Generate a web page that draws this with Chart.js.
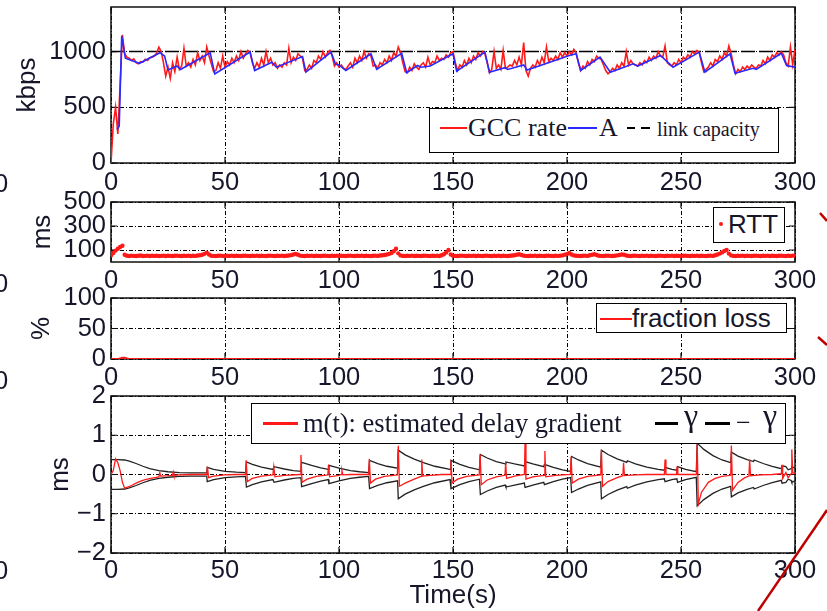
<!DOCTYPE html>
<html><head><meta charset="utf-8">
<script src="https://cdn.jsdelivr.net/npm/chart.js@4.4.1/dist/chart.umd.min.js"></script>
<style>
html,body{margin:0;padding:0;background:#fff;overflow:hidden}
#wrap{position:relative;width:827px;height:611px;overflow:hidden;background:#fff}
canvas{position:absolute;left:0;top:0}
.lg{position:absolute;border:1.5px solid #000;background:#fff;box-sizing:border-box;z-index:5}
.t{position:absolute;white-space:nowrap;line-height:30px;height:30px;color:#16162a;z-index:6}
.ser{font-family:"Liberation Serif","Times New Roman",serif}
.san{font-family:"Liberation Sans",Arial,Helvetica,sans-serif}
.ln{position:absolute;height:0;z-index:6}
</style></head>
<body><div id="wrap">
<canvas id="c1" width="827" height="611"></canvas>
<canvas id="c2" width="827" height="611"></canvas>
<canvas id="c3" width="827" height="611"></canvas>
<canvas id="c4" width="827" height="611"></canvas>

<div class="t san" style="left:-6px;top:168px;font-size:25.5px">0</div>
<div class="t san" style="left:-6px;top:268px;font-size:25.5px">0</div>
<div class="t san" style="left:-6px;top:365px;font-size:25.5px">0</div>
<div class="t san" style="left:-6px;top:555px;font-size:25.5px">0</div>

<div class="lg" style="left:429px;top:108px;width:350px;height:45px"></div>
<div class="ln" style="left:440px;top:127px;width:27px;border-top:2px solid #ff1a1a"></div>
<div class="t ser" style="left:468px;top:113px;font-size:26px">GCC rate</div>
<div class="ln" style="left:568px;top:127px;width:29px;border-top:2px solid #2a2aff"></div>
<div class="t ser" style="left:599px;top:113px;font-size:26px">A</div>
<div class="ln" style="left:627px;top:127px;width:8px;border-top:2px solid #000"></div>
<div class="ln" style="left:641px;top:127px;width:9px;border-top:2px solid #000"></div>
<div class="t ser" style="left:657px;top:114px;font-size:20px">link capacity</div>

<div class="lg" style="left:713px;top:207px;width:72px;height:36px"></div>
<div style="position:absolute;left:719px;top:222px;width:4px;height:4px;border-radius:50%;background:#ff1a1a;z-index:6"></div>
<div class="t san" style="left:728px;top:209px;font-size:26px">RTT</div>

<div class="lg" style="left:596px;top:303px;width:191px;height:30px"></div>
<div class="ln" style="left:600px;top:318px;width:32px;border-top:2px solid #ff1a1a"></div>
<div class="t san" style="left:632px;top:303px;font-size:26px">fraction loss</div>

<div class="lg" style="left:251px;top:403px;width:535px;height:41px"></div>
<div class="ln" style="left:263px;top:422px;width:35px;border-top:3px solid #ff1a1a"></div>
<div class="t ser" style="left:303px;top:408px;font-size:26.5px">m(t): estimated delay gradient</div>
<div class="ln" style="left:655px;top:422px;width:23px;border-top:3px solid #000"></div>
<div class="t ser" style="left:684px;top:400px;font-size:32px">γ</div>
<div class="ln" style="left:705px;top:422px;width:25px;border-top:3px solid #000"></div>
<div class="t ser" style="left:736px;top:408px;font-size:26px">−</div>
<div class="t ser" style="left:763px;top:400px;font-size:32px">γ</div>

<svg style="position:absolute;left:0;top:0;z-index:7" width="827" height="611">
<line x1="758" y1="611" x2="827" y2="510" stroke="#c00000" stroke-width="2.5"/>
<line x1="820" y1="213" x2="827" y2="221" stroke="#c00000" stroke-width="2.5"/>
<line x1="818" y1="337" x2="827" y2="345" stroke="#c00000" stroke-width="2.5"/>
</svg>
</div>
<script>
// ---------- data ----------
const X_TICKS = [0,50,100,150,200,250,300];
const Y1_TICKS = [0,500,1000];
const Y2_TICKS = [100,300,500];
const Y3_TICKS = [0,50,100];
const Y4_TICKS = [-2,-1,0,1,2];

// GCC rate (kbps), one sample per second, t = 0..300
const gccV = [
0,350,500,260,700,1150,980,950,940,920,
935,900,890,910,905,930,920,945,950,960,
985,1040,1000,900,780,860,760,900,820,950,
840,870,1030,870,900,860,930,880,990,920,
960,900,1040,960,890,820,830,900,850,960,
860,910,880,940,900,960,920,1000,940,980,
1010,990,900,850,900,860,940,880,1000,900,
940,880,900,850,880,860,900,880,1030,900,
950,920,980,960,940,830,840,880,850,920,
900,960,930,1000,950,990,1010,960,870,900,
860,880,850,840,870,900,860,940,900,960,
920,1000,940,980,960,870,880,850,900,880,
930,900,960,920,990,960,1040,990,900,820,
810,860,830,890,860,840,880,900,860,950,
880,910,900,960,920,940,930,970,950,990,
1000,900,830,880,860,920,880,940,900,960,
930,990,960,1000,980,900,810,840,1000,850,
880,840,1010,850,860,880,870,920,880,950,
880,1080,830,780,850,880,860,920,880,950,
900,1040,910,940,920,960,930,990,950,990,
960,1000,970,1020,990,900,830,870,850,910,
880,930,910,960,940,930,880,830,800,820,
850,830,880,850,900,870,1000,880,920,890,
880,870,900,880,920,900,950,920,960,940,
1000,960,950,1050,900,880,870,900,880,930,
900,950,930,970,950,1000,980,1010,990,900,
820,840,860,900,870,930,910,960,930,990,
960,1050,980,880,800,840,820,860,840,870,
850,880,860,850,880,870,920,890,950,920,
970,950,990,970,1000,970,900,870,1040,880,
1020];

// A (kbps)
const aT = [2.6,3.6,4.7,6.3,12.5,21.5,23.5,25,29,30.5,43.5,45.5,61,63,70.5,72.5,84,85.5,96.5,98.5,100,103,114,116.5,127.5,129.7,134.5,136,140,150,151.6,164,166,172.8,174,181,182.5,201,204,206,214.5,219,229,231,241,246.5,258,260.5,271.5,273.7,281.6,283,294,296.3,300];
const aV = [300,330,1140,940,895,990,960,835,870,840,990,800,995,830,905,860,955,815,995,885,880,830,980,840,985,810,875,860,870,980,825,995,815,855,840,880,835,965,980,830,950,815,890,870,965,860,995,815,980,805,850,840,985,875,860];

// link capacity (kbps)
const capT = [0,300];
const capV = [1000,1000];

// RTT (ms), one sample per second, t = 0..300
const rttV = [
55,75,95,110,125,135,60,52,50,53,51,50,52,54,50,51,53,50,52,51,
52,50,51,53,50,52,51,50,52,53,51,50,52,51,53,50,52,51,54,56,
60,68,78,62,52,51,50,52,53,51,50,52,51,53,50,52,51,50,52,53,
51,50,52,51,53,50,52,51,50,52,53,51,50,52,51,53,50,52,54,57,
62,68,60,53,51,50,52,51,53,50,52,51,50,52,53,51,50,52,51,53,
50,52,51,50,52,53,51,50,52,51,53,50,52,51,50,52,53,51,54,56,
58,62,68,75,90,110,72,55,51,50,52,51,53,50,52,51,50,52,53,51,
50,52,51,53,50,56,64,80,100,62,52,51,50,52,53,51,50,52,51,53,
50,52,51,50,52,53,51,50,52,51,53,50,52,51,50,52,54,56,60,64,
58,53,51,50,52,51,53,50,52,51,50,52,53,51,50,52,51,53,55,60,
66,75,62,55,52,51,50,52,53,51,56,60,64,58,52,51,50,52,53,51,
50,52,55,58,62,60,54,51,50,52,53,51,50,52,51,53,50,52,51,50,
52,53,51,50,52,51,53,50,52,51,50,52,53,51,50,52,51,53,50,52,
51,50,52,53,51,56,62,70,80,92,100,70,55,51,50,52,51,53,50,52,
51,50,52,53,51,50,52,51,53,50,52,51,50,52,53,51,50,52,51,53,52];

// fraction loss (%)
const fT = [0,3,4,5,6,7,8,300];
const fV = [0,0,1,2,2,1,0,0];

// m(t): estimated delay gradient (ms)
const mT = [0,1,2,3,4,5,6,7,9,11,13,15,18,21,21.4,21.8,25,27,27.3,27.6,30,35,40,42,42.3,42.8,45,50,55,59,59.3,59.8,62,66,71,71.4,71.9,76,83,83.3,83.8,86,90,95.1,95.4,95.9,100,101,101.3,101.7,105,113,113.3,113.8,116,120,125.6,126,126.5,129,133,136,136.3,136.7,140,145,148.8,149.1,149.6,152,156,161.5,161.9,162.4,165,169,172.8,173.1,173.5,177,181.3,181.6,182,185,190,190.3,190.7,195,201.5,201.8,202.3,205,209,214.8,215.1,215.6,218,222,224.5,224.8,225.2,230,235,242.7,243,243.4,248,248.3,248.6,256.8,257.1,257.6,259,262,265,268,271.8,272.1,272.6,275,278,279.8,280.1,280.5,285,290,294,294.3,294.6,296,297,298.3,298.6,299,300];
const mV = [0,0.1,0.4,0.3,0.1,-0.2,-0.35,-0.33,-0.28,-0.22,-0.17,-0.13,-0.09,-0.06,0.05,-0.04,-0.03,-0.02,0.06,-0.02,-0.01,0,0,0,0.2,-0.08,-0.04,-0.01,0,0,0.36,-0.18,-0.1,-0.04,-0.01,0.2,-0.06,-0.02,0,0.5,-0.2,-0.12,-0.05,-0.01,0.25,-0.06,-0.02,0,0.1,-0.01,0,0,0.4,-0.22,-0.12,-0.05,-0.01,0.73,-0.3,-0.22,-0.12,-0.05,0.38,-0.04,-0.02,0,0,0.35,-0.22,-0.12,-0.05,-0.01,0.51,-0.26,-0.14,-0.06,-0.02,0.3,-0.1,-0.04,0,0.8,-0.12,-0.06,-0.02,0.6,-0.06,-0.02,0,0.45,-0.22,-0.12,-0.05,-0.01,0.62,-0.3,-0.18,-0.08,-0.03,0.3,-0.03,-0.01,0,0,0.38,0,0,0.2,0,0,0.8,-0.75,-0.45,-0.2,-0.1,-0.05,-0.02,0.74,-0.4,-0.2,-0.08,-0.04,0.38,-0.03,-0.01,0,0.02,0.25,-0.1,0.05,-0.08,0.02,0.64,0.05,0.02];

// gamma threshold (ms) and its negative
const gT = [0,3,6,8,11,14,17,21,25,30,35,42,42.2,45,50,55,59,59.4,62,66,71,71.5,76,80,83.3,83.6,88,92,95.3,95.6,100,105,109,113,113.4,117,121,125.7,126,129,133,137,142,148.7,149.1,153,157,161.6,162,165,169,172.9,173.2,177,181.3,181.6,185,189.8,190.1,194,198,201.6,202,205,209,214.8,215.1,218,222,226.2,226.5,230,235,240,242.7,243,246,248.2,248.5,252,256.7,257.1,260,264,268,271.8,272.1,275,279,281.8,282.1,286,290,294,294.3,296,297,298.3,298.6,300];
const gV = [0.38,0.38,0.37,0.34,0.28,0.21,0.15,0.1,0.07,0.05,0.04,0.04,0.18,0.13,0.08,0.06,0.05,0.32,0.26,0.19,0.13,0.2,0.14,0.1,0.08,0.31,0.23,0.17,0.13,0.23,0.16,0.1,0.07,0.05,0.36,0.28,0.21,0.16,0.62,0.5,0.39,0.3,0.21,0.13,0.36,0.26,0.18,0.12,0.51,0.42,0.33,0.27,0.32,0.27,0.22,0.33,0.27,0.2,0.26,0.18,0.12,0.08,0.46,0.37,0.28,0.19,0.62,0.51,0.4,0.31,0.35,0.27,0.19,0.13,0.11,0.18,0.13,0.11,0.2,0.13,0.07,0.8,0.64,0.48,0.37,0.3,0.57,0.47,0.38,0.33,0.37,0.28,0.21,0.15,0.22,0.2,0.12,0.15,0.2,0.16];
const ngV = [-0.38,-0.38,-0.37,-0.34,-0.28,-0.21,-0.15,-0.1,-0.07,-0.05,-0.04,-0.04,-0.18,-0.13,-0.08,-0.06,-0.05,-0.32,-0.26,-0.19,-0.13,-0.2,-0.14,-0.1,-0.08,-0.31,-0.23,-0.17,-0.13,-0.23,-0.16,-0.1,-0.07,-0.05,-0.36,-0.28,-0.21,-0.16,-0.62,-0.5,-0.39,-0.3,-0.21,-0.13,-0.36,-0.26,-0.18,-0.12,-0.51,-0.42,-0.33,-0.27,-0.32,-0.27,-0.22,-0.33,-0.27,-0.2,-0.26,-0.18,-0.12,-0.08,-0.46,-0.37,-0.28,-0.19,-0.62,-0.51,-0.4,-0.31,-0.35,-0.27,-0.19,-0.13,-0.11,-0.18,-0.13,-0.11,-0.2,-0.13,-0.07,-0.8,-0.64,-0.48,-0.37,-0.3,-0.57,-0.47,-0.38,-0.33,-0.37,-0.28,-0.21,-0.15,-0.22,-0.2,-0.12,-0.15,-0.2,-0.16];

// ---------- helpers ----------
const SANS = '"Liberation Sans", Arial, Helvetica, sans-serif';
const TXT = '#16162a';
const RED = '#ff1a1a', BLUE = '#2a2aff';
const pts = (xs, ys) => ys.map((v, i) => ({x: xs[i], y: v}));
const idxPts = ys => ys.map((v, i) => ({x: i, y: v}));

function xAxis(h, pad, title) {
  const o = {
    type: 'linear', min: 0, max: 300,
    afterBuildTicks: s => { s.ticks = X_TICKS.map(v => ({value: v})); },
    ticks: {padding: pad, color: TXT, font: {family: SANS, size: 25.5}, maxRotation: 0, autoSkip: false, callback: v => String(v)},
    grid: {color: '#000', lineWidth: 1, drawTicks: false},
    border: {display: false, dash: [4, 2, 1, 2]},
    afterFit: s => { s.height = h; s.paddingLeft = 0; s.paddingRight = 0; }
  };
  if (title) o.title = {display: true, text: title, color: TXT, font: {family: SANS, size: 26}, padding: {top: 0, bottom: 0}};
  return o;
}
function yAxis(min, max, ticks, title, tpad) {
  return {
    type: 'linear', min: min, max: max,
    afterBuildTicks: s => { s.ticks = ticks.map(v => ({value: v})); },
    ticks: {padding: 5, color: TXT, font: {family: SANS, size: 25.5}, autoSkip: false, callback: v => String(v).replace('-', '\u2212')},
    grid: {color: '#000', lineWidth: 1, drawTicks: false},
    border: {display: false, dash: [4, 2, 1, 2]},
    title: {display: true, text: title, color: TXT, font: {family: SANS, size: 26}, padding: {top: tpad, bottom: 0}},
    afterFit: s => { s.width = 111; s.paddingTop = 0; s.paddingBottom = 0; }
  };
}
const boxPlugin = {
  id: 'matlabBox',
  beforeDatasetsDraw(chart) {
    const {ctx, chartArea: a, scales} = chart;
    ctx.save();
    ctx.setLineDash([]);
    ctx.strokeStyle = '#111';
    ctx.lineWidth = 1.5;
    ctx.strokeRect(a.left, a.top, a.right - a.left, a.bottom - a.top);
    ctx.lineWidth = 1.2;
    ctx.beginPath();
    scales.x.ticks.forEach(t => {
      const p = scales.x.getPixelForValue(t.value);
      ctx.moveTo(p, a.bottom); ctx.lineTo(p, a.bottom - 6);
      ctx.moveTo(p, a.top); ctx.lineTo(p, a.top + 6);
    });
    scales.y.ticks.forEach(t => {
      const p = scales.y.getPixelForValue(t.value);
      ctx.moveTo(a.left, p); ctx.lineTo(a.left + 6, p);
      ctx.moveTo(a.right, p); ctx.lineTo(a.right - 6, p);
    });
    ctx.stroke();
    ctx.restore();
  }
};
function make(id, type, datasets, top, bottom, xh, xpad, xtitle, yax) {
  return new Chart(document.getElementById(id), {
    type: type,
    data: {datasets: datasets},
    options: {
      responsive: false, animation: false, devicePixelRatio: 1,
      layout: {padding: {left: 0, right: 32, top: top, bottom: 611 - bottom - xh}},
      plugins: {legend: {display: false}, tooltip: {enabled: false}},
      elements: {point: {radius: 0}, line: {tension: 0}},
      scales: {x: xAxis(xh, xpad, xtitle), y: yax}
    },
    plugins: [boxPlugin]
  });
}

// ---------- panel 1 ----------
make('c1', 'line', [
  {label: 'A', data: pts(aT, aV), borderColor: BLUE, borderWidth: 1.6, pointRadius: 0},
  {label: 'GCC rate', data: idxPts(gccV), borderColor: RED, borderWidth: 1.6, pointRadius: 0},
  {label: 'link capacity', data: pts(capT, capV), borderColor: '#000', borderWidth: 1.6, borderDash: [14, 4], pointRadius: 0}
], 7, 163, 40, 5, null, yAxis(0, 1400, Y1_TICKS, 'kbps', 12.4));

// ---------- panel 2 ----------
make('c2', 'scatter', [
  {label: 'RTT', data: idxPts(rttV), borderColor: RED, backgroundColor: RED, pointRadius: 2.2, borderWidth: 0, showLine: false}
], 202, 262, 40, 4, null, yAxis(0, 500, Y2_TICKS, 'ms', 27.4));

// ---------- panel 3 ----------
make('c3', 'line', [
  {label: 'fraction loss', data: pts(fT, fV), borderColor: RED, borderWidth: 2, pointRadius: 0}
], 298, 359, 40, 4, null, yAxis(0, 100, Y3_TICKS, '%', 26.4));

// ---------- panel 4 ----------
make('c4', 'line', [
  {label: 'm(t): estimated delay gradient', data: pts(mT, mV), borderColor: RED, borderWidth: 1.3, pointRadius: 0},
  {label: 'γ', data: pts(gT, gV), borderColor: '#222', borderWidth: 1.3, pointRadius: 0},
  {label: '−γ', data: pts(gT, ngV), borderColor: '#222', borderWidth: 1.3, pointRadius: 0}
], 396, 553, 58, 3, 'Time(s)', yAxis(-2, 2, Y4_TICKS, 'ms', 45.4));
</script>
</body></html>
